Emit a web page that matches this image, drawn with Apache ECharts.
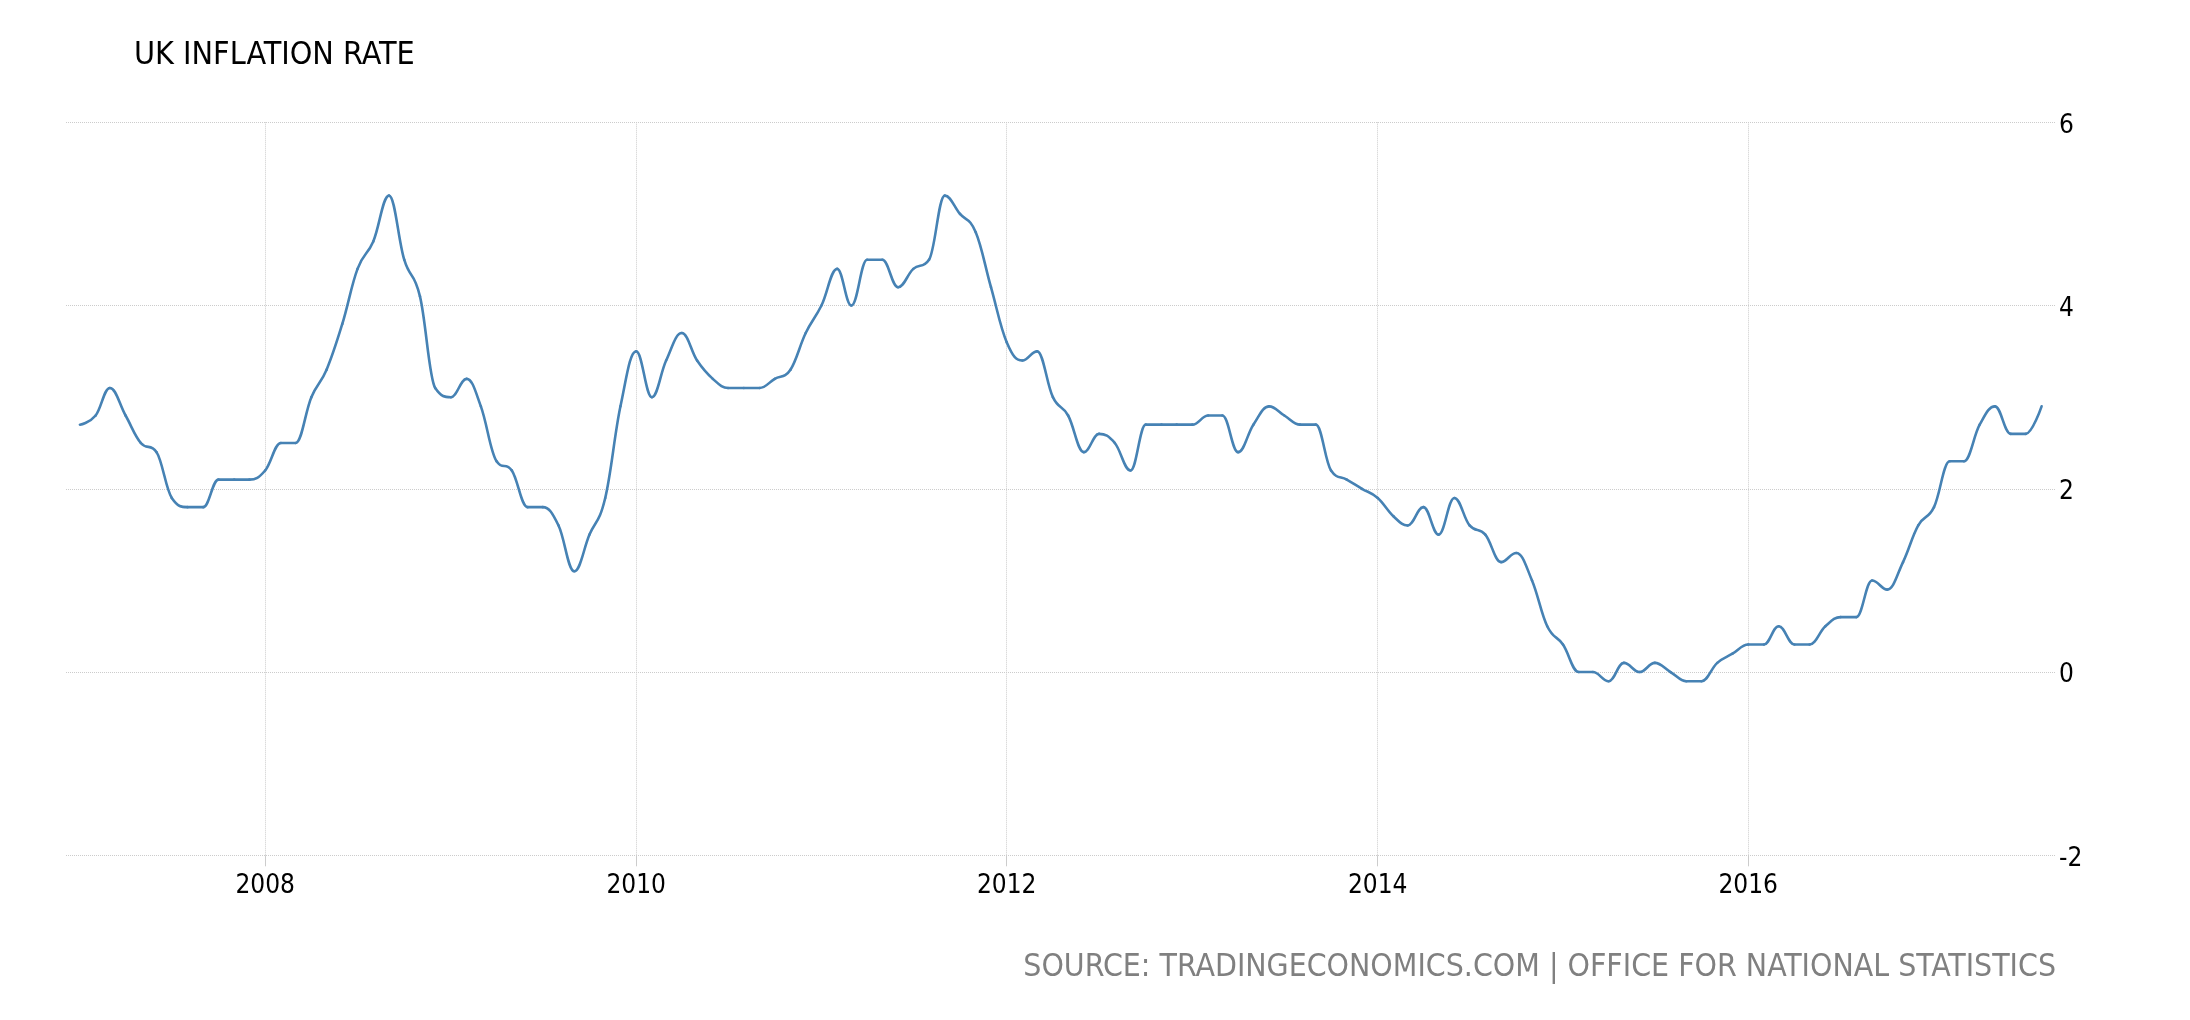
<!DOCTYPE html>
<html>
<head>
<meta charset="utf-8">
<title>UK Inflation Rate</title>
<script src="https://cdn.jsdelivr.net/npm/echarts@6/dist/echarts.min.js"></script>
<style>
  html, body { margin: 0; padding: 0; background: #ffffff; }
  #chart { width: 2190px; height: 1020px; }
</style>
</head>
<body>
<div id="chart"></div>
<script>
// ---- Data: UK CPI annual inflation rate (%), monthly ----
const startYear = 2007;
const rate2007 = [2.7, 2.8, 3.1, 2.8, 2.5, 2.4, 1.9, 1.8, 1.8, 2.1, 2.1, 2.1];
const rate2008 = [2.2, 2.5, 2.5, 3.0, 3.3, 3.8, 4.4, 4.7, 5.2, 4.5, 4.1, 3.1];
const rate2009 = [3.0, 3.2, 2.9, 2.3, 2.2, 1.8, 1.8, 1.6, 1.1, 1.5, 1.9, 2.9];
const rate2010 = [3.5, 3.0, 3.4, 3.7, 3.4, 3.2, 3.1, 3.1, 3.1, 3.2, 3.3, 3.7];
const rate2011 = [4.0, 4.4, 4.0, 4.5, 4.5, 4.2, 4.4, 4.5, 5.2, 5.0, 4.8, 4.2];
const rate2012 = [3.6, 3.4, 3.5, 3.0, 2.8, 2.4, 2.6, 2.5, 2.2, 2.7, 2.7, 2.7];
const rate2013 = [2.7, 2.8, 2.8, 2.4, 2.7, 2.9, 2.8, 2.7, 2.7, 2.2, 2.1, 2.0];
const rate2014 = [1.9, 1.7, 1.6, 1.8, 1.5, 1.9, 1.6, 1.5, 1.2, 1.3, 1.0, 0.5];
const rate2015 = [0.3, 0.0, 0.0, -0.1, 0.1, 0.0, 0.1, 0.0, -0.1, -0.1, 0.1, 0.2];
const rate2016 = [0.3, 0.3, 0.5, 0.3, 0.3, 0.5, 0.6, 0.6, 1.0, 0.9, 1.2, 1.6];
const rate2017 = [1.8, 2.3, 2.3, 2.7, 2.9, 2.6, 2.6, 2.9];

const yearlyRates = [rate2007, rate2008, rate2009, rate2010, rate2011, rate2012,
                     rate2013, rate2014, rate2015, rate2016, rate2017];

// Tick labels
const xTickYears = [2008, 2010, 2012, 2014, 2016];
const yTicks = [-2, 0, 2, 4, 6];

const titleText = 'UK INFLATION RATE';
const sourceText = 'SOURCE: TRADINGECONOMICS.COM | OFFICE FOR NATIONAL STATISTICS';

// ---- Build series points [time, value] ----
const seriesData = [];
yearlyRates.forEach(function (arr, yi) {
  arr.forEach(function (v, mi) {
    seriesData.push([Date.UTC(startYear + yi, mi, 1), v]);
  });
});

const DAY = 86400000;
const firstT = seriesData[0][0];
const lastT = seriesData[seriesData.length - 1][0];
const xMin = firstT - 27.4 * DAY;
const xMax = lastT + 26.4 * DAY;
const xTickValues = xTickYears.map(function (y) { return Date.UTC(y, 0, 1); });

const FONT = "'DejaVu Sans Condensed', 'DejaVu Sans', sans-serif";
const gridColor = '#cccccc';
const lineColor = '#4682b4';

// Spline control points (classic "spline" scheme, smoothing 1.5)
function splineControls(pts, i) {
  const p = pts[i], prev = pts[i - 1], next = pts[i + 1];
  if (!prev || !next) return { lx: p[0], ly: p[1], rx: p[0], ry: p[1] };
  const s = 1.5, d = s + 1;
  const lx = (s * p[0] + prev[0]) / d;
  let ly = (s * p[1] + prev[1]) / d;
  const rx = (s * p[0] + next[0]) / d;
  let ry = (s * p[1] + next[1]) / d;
  let corr = 0;
  if (rx !== lx) corr = ((ry - ly) * (rx - p[0])) / (rx - lx) + p[1] - ry;
  ly += corr; ry += corr;
  if (ly > prev[1] && ly > p[1]) { ly = Math.max(prev[1], p[1]); ry = 2 * p[1] - ly; }
  else if (ly < prev[1] && ly < p[1]) { ly = Math.min(prev[1], p[1]); ry = 2 * p[1] - ly; }
  if (ry > next[1] && ry > p[1]) { ry = Math.max(next[1], p[1]); ly = 2 * p[1] - ry; }
  else if (ry < next[1] && ry < p[1]) { ry = Math.min(next[1], p[1]); ly = 2 * p[1] - ry; }
  return { lx: lx, ly: ly, rx: rx, ry: ry };
}

function renderSegment(params, api) {
  const i = params.dataIndex;
  if (i === 0) return null;
  const pts = {};
  for (let k = i - 2; k <= i + 1; k++) {
    if (k >= 0 && k < seriesData.length) pts[k] = api.coord(seriesData[k]);
  }
  const c0 = splineControls(pts, i - 1);
  const c1 = splineControls(pts, i);
  return {
    type: 'bezierCurve',
    shape: {
      x1: pts[i - 1][0], y1: pts[i - 1][1],
      x2: pts[i][0], y2: pts[i][1],
      cpx1: c0.rx, cpy1: c0.ry,
      cpx2: c1.lx, cpy2: c1.ly
    },
    style: { stroke: lineColor, lineWidth: 2.6, fill: null, lineCap: 'round' },
    silent: true
  };
}

const chart = echarts.init(document.getElementById('chart'), null, { renderer: 'canvas' });

chart.setOption({
  animation: false,
  backgroundColor: '#ffffff',
  title: [
    {
      text: titleText,
      left: 134,
      top: 39.5,
      padding: 0,
      textStyle: { fontFamily: FONT, fontSize: 32, fontWeight: 'normal', color: '#000000', lineHeight: 32 }
    },
    {
      text: sourceText,
      right: 134,
      top: 951.5,
      padding: 0,
      textStyle: { fontFamily: FONT, fontSize: 31.7, fontWeight: 'normal', color: '#808080', lineHeight: 32 }
    }
  ],
  grid: {
    left: 66,
    right: 135,
    top: 122.3,
    bottom: 164.7,
    containLabel: false
  },
  xAxis: {
    type: 'value',
    position: 'bottom',
    min: xMin,
    max: xMax,
    axisLine: { show: false, onZero: false },
    axisTick: {
      show: true,
      length: 11,
      customValues: xTickValues,
      lineStyle: { color: gridColor, width: 1 }
    },
    axisLabel: {
      show: true,
      customValues: xTickValues,
      margin: 18,
      color: '#000000',
      fontFamily: FONT,
      fontSize: 26,
      hideOverlap: false,
      formatter: function (val) { return String(new Date(val).getUTCFullYear()); }
    },
    splitLine: {
      show: true,
      lineStyle: { color: gridColor, width: 1, type: 'dotted' }
    }
  },
  yAxis: {
    type: 'value',
    position: 'right',
    min: yTicks[0],
    max: yTicks[yTicks.length - 1],
    interval: 2,
    axisLine: { show: false, onZero: false },
    axisTick: { show: false },
    axisLabel: {
      margin: 4,
      verticalAlign: 'top',
      lineHeight: 7,
      color: '#000000',
      fontFamily: FONT,
      fontSize: 26,
      align: 'left'
    },
    splitLine: {
      show: true,
      lineStyle: { color: gridColor, width: 1, type: 'dotted' }
    }
  },
  series: [
    {
      name: 'UK Inflation Rate',
      type: 'custom',
      data: seriesData,
      encode: { x: 0, y: 1 },
      renderItem: renderSegment,
      clip: true
    }
  ]
});
</script>
</body>
</html>
